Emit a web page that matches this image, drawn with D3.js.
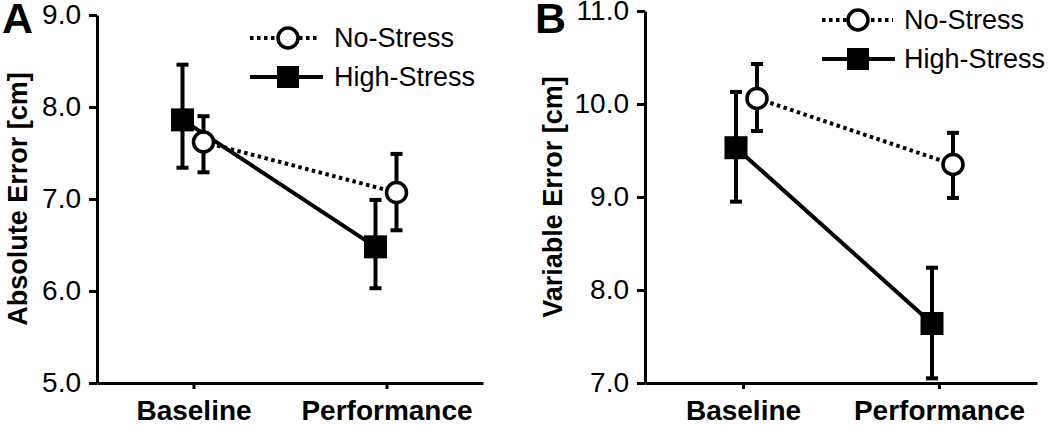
<!DOCTYPE html>
<html>
<head>
<meta charset="utf-8">
<script src="https://cdn.jsdelivr.net/npm/d3@7"></script>
<style>
  html, body { margin: 0; padding: 0; background: #fff; }
  svg { display: block; font-family: "Liberation Sans", Arial, Helvetica, sans-serif; }
</style>
</head>
<body>
<svg id="chart" width="1050" height="425"></svg>
<script>
// ---- Data ----
const categories = ["Baseline", "Performance"];
const seriesNames = ["No-Stress", "High-Stress"];

// Panel A: Absolute Error [cm]
const noStressA = [7.62, 7.07];
const noStressAUpper = [7.90, 7.49];
const noStressALower = [7.29, 6.66];
const highStressA = [7.86, 6.48];
const highStressAUpper = [8.46, 6.99];
const highStressALower = [7.34, 6.03];
const ticksA = [5, 6, 7, 8, 9];

// Panel B: Variable Error [cm]
const noStressB = [10.06, 9.35];
const noStressBUpper = [10.43, 9.69];
const noStressBLower = [9.71, 8.99];
const highStressB = [9.53, 7.64];
const highStressBUpper = [10.13, 8.24];
const highStressBLower = [8.95, 7.05];
const ticksB = [7, 8, 9, 10, 11];

// ---- Drawing ----
const svg = d3.select("#chart");

function panel(cfg) {
  const g = svg.append("g");
  const x = d3.scalePoint().domain(categories).range([cfg.x0, cfg.x1]).padding(0.5);
  const y = d3.scaleLinear().domain([cfg.ticks[0], cfg.ticks[cfg.ticks.length - 1]]).range([cfg.yBottom, cfg.yTop]);

  // y axis
  const ya = g.append("g").attr("transform", `translate(${cfg.x0},0)`)
    .call(d3.axisLeft(y).tickValues(cfg.ticks).tickFormat(d3.format(".1f")).tickSize(8).tickSizeOuter(0).tickPadding(8));
  ya.select(".domain").attr("stroke", "#000").attr("stroke-width", 3);
  ya.selectAll(".tick line").attr("stroke", "#000").attr("stroke-width", 3);
  ya.selectAll(".tick text").attr("font-size", 28).attr("fill", "#000")
    .attr("font-family", "'Liberation Sans', Arial, sans-serif");

  // x axis
  const xa = g.append("g").attr("transform", `translate(0,${cfg.yBottom})`)
    .call(d3.axisBottom(x).tickSize(6).tickSizeOuter(0));
  xa.select(".domain").attr("stroke", "#000").attr("stroke-width", 3);
  xa.selectAll(".tick line").attr("stroke", "#000").attr("stroke-width", 3);
  xa.selectAll(".tick text").attr("font-size", 28).attr("font-weight", "bold").attr("fill", "#000")
    .attr("y", 37).attr("dy", 0)
    .attr("font-family", "'Liberation Sans', Arial, sans-serif");

  // axis title
  g.append("text")
    .attr("transform", `translate(${cfg.titleX},${(cfg.yTop + cfg.yBottom) / 2}) rotate(-90)`)
    .attr("text-anchor", "middle")
    .attr("font-size", 27).attr("font-weight", "bold")
    .text(cfg.title);

  // panel letter
  g.append("text").attr("x", cfg.letterX).attr("y", 33)
    .attr("font-size", 43).attr("font-weight", "bold").text(cfg.letter);

  const series = [
    { name: "High-Stress", vals: cfg.high, up: cfg.highUp, lo: cfg.highLo, dx: cfg.highDx, dash: null, marker: "square" },
    { name: "No-Stress", vals: cfg.no, up: cfg.noUp, lo: cfg.noLo, dx: cfg.noDx, dash: "3.5,3.5", marker: "circle" }
  ];

  // lines
  series.forEach(s => {
    const line = d3.line().x((d, i) => x(categories[i]) + s.dx).y(d => y(d));
    g.append("path").datum(s.vals).attr("d", line)
      .attr("fill", "none").attr("stroke", "#000").attr("stroke-width", 4)
      .attr("stroke-dasharray", s.dash);
  });

  // error bars
  series.forEach(s => {
    categories.forEach((c, i) => {
      const cx = x(c) + s.dx;
      g.append("line").attr("x1", cx).attr("x2", cx).attr("y1", y(s.up[i])).attr("y2", y(s.lo[i]))
        .attr("stroke", "#000").attr("stroke-width", 4);
      [s.up[i], s.lo[i]].forEach(v => {
        g.append("line").attr("x1", cx - 6).attr("x2", cx + 6).attr("y1", y(v)).attr("y2", y(v))
          .attr("stroke", "#000").attr("stroke-width", 4);
      });
    });
  });

  // markers
  series.forEach(s => {
    categories.forEach((c, i) => {
      const cx = x(c) + s.dx, cy = y(s.vals[i]);
      if (s.marker === "square") {
        g.append("rect").attr("x", cx - 11.5).attr("y", cy - 11.5).attr("width", 23).attr("height", 23).attr("fill", "#000");
      } else {
        g.append("circle").attr("cx", cx).attr("cy", cy).attr("r", 10).attr("fill", "#fff")
          .attr("stroke", "#000").attr("stroke-width", 3.5);
      }
    });
  });

  // legend
  const L = cfg.legend;
  const rows = [
    { name: seriesNames[0], y: L.y0, dash: "3.5,3.5", marker: "circle", x1: L.x1a },
    { name: seriesNames[1], y: L.y1, dash: null, marker: "square", x1: L.x1b }
  ];
  rows.forEach(r => {
    g.append("line").attr("x1", L.x0).attr("x2", r.x1).attr("y1", r.y).attr("y2", r.y)
      .attr("stroke", "#000").attr("stroke-width", 4).attr("stroke-dasharray", r.dash);
    if (r.marker === "circle") {
      g.append("circle").attr("cx", L.mx).attr("cy", r.y).attr("r", 10).attr("fill", "#fff")
        .attr("stroke", "#000").attr("stroke-width", 3.5);
    } else {
      g.append("rect").attr("x", L.mx - 11).attr("y", r.y - 11).attr("width", 22).attr("height", 22).attr("fill", "#000");
    }
    g.append("text").attr("x", L.tx).attr("y", r.y).attr("dy", "0.35em")
      .attr("font-size", 27).text(r.name);
  });
}

panel({
  x0: 97, x1: 483, yTop: 15, yBottom: 383, ticks: ticksA,
  title: "Absolute Error [cm]", titleX: 27, letter: "A", letterX: 2,
  high: highStressA, highUp: highStressAUpper, highLo: highStressALower, highDx: -11,
  no: noStressA, noUp: noStressAUpper, noLo: noStressALower, noDx: 10,
  legend: { x0: 250, x1a: 319, x1b: 323, mx: 288, tx: 334, y0: 38, y1: 77 }
});

panel({
  x0: 645, x1: 1037, yTop: 11, yBottom: 383, ticks: ticksB,
  title: "Variable Error [cm]", titleX: 562, letter: "B", letterX: 535,
  high: highStressB, highUp: highStressBUpper, highLo: highStressBLower, highDx: -7,
  no: noStressB, noUp: noStressBUpper, noLo: noStressBLower, noDx: 14,
  legend: { x0: 822, x1a: 893, x1b: 895, mx: 858, tx: 904, y0: 20, y1: 59 }
});
</script>
</body>
</html>
